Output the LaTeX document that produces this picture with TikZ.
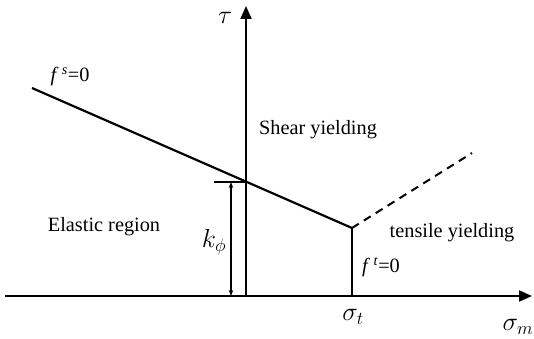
\documentclass[tikz,border=0pt]{standalone}
\usepackage{fix-cm}
\usepackage{fontspec}
\setmainfont{Liberation Serif}
\usetikzlibrary{arrows.meta}
\tikzset{
  axis/.style={line width=1.9pt,-{Triangle[length=13pt,width=11pt]}},
  yieldline/.style={line width=2.2pt},
  dashline/.style={line width=2pt,dash pattern=on 8pt off 6pt},
  dimline/.style={line width=1.1pt,{Stealth[length=6pt,width=4.5pt]}-{Stealth[length=6pt,width=4.5pt]}},
  lbl/.style={inner sep=0pt,font=\fontsize{20.3}{24}\selectfont},
  mlbl/.style={inner sep=0pt,font=\fontsize{26}{30}\selectfont}
}
\begin{document}
\begin{tikzpicture}[x=1pt,y=-1pt]
\useasboundingbox (0,0) rectangle (534,339);
\coordinate (O) at (246,296);
\coordinate (xs) at (5,296);
\coordinate (xe) at (532,296);
\coordinate (ye) at (246,6);
\coordinate (A) at (32,88);
\coordinate (B) at (352,228);
\coordinate (Bb) at (352,296);
\coordinate (C) at (472,153);
\coordinate (K) at (246,182);
\coordinate (Kl) at (214,182);
\coordinate (D1) at (231,182);
\coordinate (D2) at (231,296);
\draw[axis] (xs) -- (xe);
\draw[axis] (O) -- (ye);
\draw[yieldline] (A) -- (B);
\draw[yieldline] (B) -- (Bb);
\draw[dashline] (B) -- (C);
\draw[line width=1.2pt] (Kl) -- (K);
\draw[dimline] (D1) -- (D2);
\node[mlbl] (tau) at (225,18) {$\tau$};
\node[mlbl] (sigm) at (518,327) {$\sigma_m$};
\node[mlbl] (sigt) at (353,317) {$\sigma_t$};
\node[mlbl] (kphi) at (214,242) {$k_\phi$};
\node[lbl] (fs) at (70,77) {\textit{f}\,\textsuperscript{\textit{s}}=0};
\node[lbl] (ft) at (381,267) {\textit{f}\,\textsuperscript{\textit{t}}=0};
\node[lbl] (shear) at (318,130) {Shear yielding};
\node[lbl] (elastic) at (104,227) {Elastic region};
\node[lbl] (tensile) at (452,233) {tensile yielding};
\end{tikzpicture}
\end{document}
